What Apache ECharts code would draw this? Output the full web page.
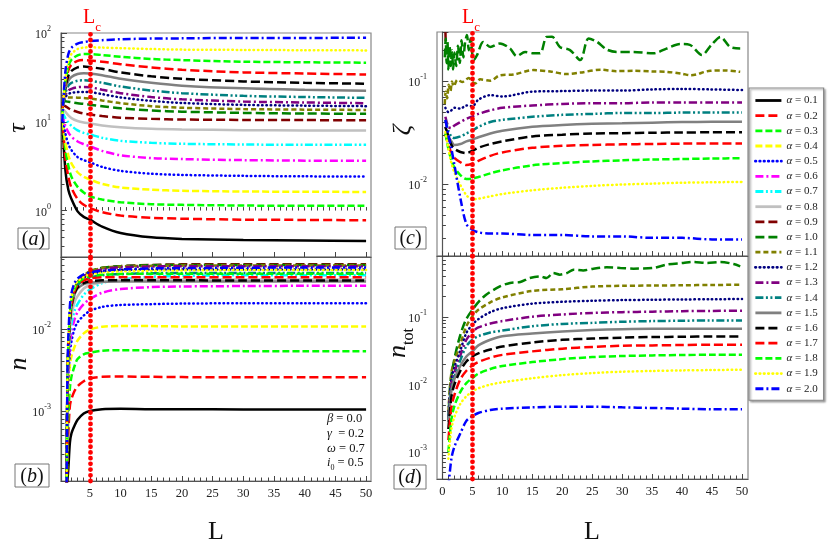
<!DOCTYPE html>
<html>
<head>
<meta charset="utf-8">
<script src="https://cdn.jsdelivr.net/npm/echarts@6/dist/echarts.min.js"></script>
</head>
<body style="margin:0;background:#fff">
<div id="chart" style="width:830px;height:547px"></div>
<script>
var alphas = ['0.1','0.2','0.3','0.4','0.5','0.6','0.7','0.8','0.9','1.0',
              '1.1','1.2','1.3','1.4','1.5','1.6','1.7','1.8','1.9','2.0'];

// panel (a): tau vs L
var La = [0.5, 1, 1.5, 2, 3, 4, 5, 7, 10, 15, 20, 30, 40, 50];
var tauA = [
  [12, 2.9, 1.7, 1.35, 0.98, 0.85, 0.79, 0.66, 0.56, 0.5, 0.48, 0.465, 0.46, 0.455],
  [12.5, 4, 2.4, 1.8, 1.35, 1.16, 1.07, 0.96, 0.88, 0.83, 0.81, 0.79, 0.785, 0.778],
  [12.5, 5, 3.2, 2.4, 1.85, 1.6, 1.45, 1.33, 1.24, 1.18, 1.16, 1.14, 1.13, 1.13],
  [12.5, 6, 4.2, 3.4, 2.7, 2.4, 2.24, 2.0, 1.82, 1.72, 1.67, 1.64, 1.63, 1.62],
  [12.5, 7.5, 5.6, 4.8, 4.0, 3.7, 3.5, 3.1, 2.8, 2.6, 2.52, 2.46, 2.43, 2.42],
  [12.5, 9, 7.6, 6.8, 6, 5.6, 5.3, 4.7, 4.2, 3.9, 3.8, 3.7, 3.65, 3.63],
  [13, 11, 9.8, 9, 8, 7.5, 7.2, 6.6, 6.1, 5.8, 5.65, 5.55, 5.5, 5.5],
  [14, 13, 11.8, 11, 10.2, 9.8, 9.6, 9.1, 8.7, 8.35, 8.2, 8.05, 8.0, 7.98],
  [15.5, 15, 14.2, 13.6, 12.9, 12.4, 12.1, 11.6, 11.1, 10.8, 10.6, 10.5, 10.45, 10.4],
  [16, 17, 16.8, 16.6, 16.2, 15.9, 15.6, 15, 14.2, 13.4, 13, 12.6, 12.4, 12.3],
  [16.5, 18.5, 18.8, 18.8, 18.7, 18.5, 18.3, 17.4, 16.2, 15, 14.4, 13.9, 13.7, 13.6],
  [16, 19, 20.5, 21.2, 21.6, 21.7, 21.6, 20.5, 18.8, 17.2, 16.3, 15.5, 15.2, 15],
  [15.5, 20, 22.5, 23.5, 24.5, 24.7, 24.5, 23, 21, 19, 17.9, 16.9, 16.5, 16.2],
  [15, 21, 25.5, 27.5, 29, 29.3, 29, 27.5, 25, 22.5, 21, 19.6, 19, 18.6],
  [14.5, 23, 29, 32, 34.5, 35.2, 35, 33.5, 30.5, 27.5, 25.5, 23.8, 23, 22.4],
  [14, 24, 33, 37.5, 41, 42, 41.3, 39.5, 36, 32.5, 30.5, 28.5, 27.5, 26.8],
  [13, 26, 38, 44, 48.5, 49.5, 49, 47.5, 44.5, 41, 38.5, 36, 35, 34.1],
  [12, 28, 42, 50, 56, 58, 58, 56.5, 54, 51, 49.5, 47.5, 46.8, 46.3],
  [11, 30, 48, 58, 66, 68.5, 69, 68.5, 67.5, 66, 65, 64.5, 64, 63.7],
  [10, 36, 58, 68, 76, 79, 81, 83, 85, 86.5, 87, 88, 88, 88.5]
];

// panel (b): n vs L
var Lb = [1.2, 1.35, 1.5, 1.75, 2, 2.5, 3, 4, 5, 7, 10, 15, 20, 30, 40, 50];
var nB = [
  [5e-5, 1.4e-4, 2e-4, 4.1e-4, 5.3e-4, 6.6e-4, 7.8e-4, 9.3e-4, 1.0e-3, 1.05e-3, 1.06e-3, 1.05e-3, 1.05e-3, 1.04e-3, 1.04e-3, 1.04e-3],
  [8e-5, 2.8e-4, 5.5e-4, 1.15e-3, 1.4e-3, 1.75e-3, 2.0e-3, 2.3e-3, 2.5e-3, 2.6e-3, 2.62e-3, 2.6e-3, 2.58e-3, 2.57e-3, 2.57e-3, 2.57e-3],
  [8e-5, 4e-4, 9e-4, 1.9e-3, 2.6e-3, 3.5e-3, 4.3e-3, 4.9e-3, 5.1e-3, 5.4e-3, 5.5e-3, 5.45e-3, 5.4e-3, 5.35e-3, 5.33e-3, 5.33e-3],
  [8e-5, 1.0e-3, 2.0e-3, 3.6e-3, 4.6e-3, 6e-3, 7.2e-3, 8.8e-3, 9.8e-3, 1.06e-2, 1.08e-2, 1.08e-2, 1.07e-2, 1.07e-2, 1.066e-2, 1.066e-2],
  [8e-5, 1.2e-3, 2.5e-3, 5e-3, 7e-3, 1.0e-2, 1.2e-2, 1.45e-2, 1.65e-2, 1.85e-2, 1.95e-2, 2.0e-2, 2.03e-2, 2.05e-2, 2.05e-2, 2.05e-2],
  [8e-5, 1.5e-3, 3e-3, 6.5e-3, 9e-3, 1.3e-2, 1.6e-2, 2.0e-2, 2.3e-2, 2.75e-2, 3.05e-2, 3.22e-2, 3.28e-2, 3.32e-2, 3.34e-2, 3.34e-2],
  [8e-5, 1.8e-3, 4e-3, 8e-3, 1.15e-2, 1.65e-2, 2.0e-2, 2.6e-2, 3.0e-2, 3.6e-2, 4.0e-2, 4.3e-2, 4.4e-2, 4.5e-2, 4.5e-2, 4.5e-2],
  [8e-5, 1.9e-3, 4.5e-3, 1.0e-2, 1.45e-2, 2.1e-2, 2.5e-2, 3.1e-2, 3.4e-2, 3.7e-2, 3.9e-2, 4.0e-2, 4.0e-2, 4.0e-2, 4.0e-2, 4.0e-2],
  [8e-5, 2e-3, 4.8e-3, 1.2e-2, 1.9e-2, 2.9e-2, 3.6e-2, 4.4e-2, 4.9e-2, 5.5e-2, 5.8e-2, 6.0e-2, 6.1e-2, 6.1e-2, 6.1e-2, 6.1e-2],
  [8e-5, 2.1e-3, 5e-3, 1.25e-2, 1.95e-2, 3.0e-2, 3.7e-2, 4.5e-2, 5.0e-2, 5.55e-2, 5.8e-2, 5.95e-2, 6.0e-2, 6.0e-2, 6.0e-2, 6.0e-2],
  [8e-5, 2.1e-3, 5.2e-3, 1.3e-2, 2.0e-2, 3.0e-2, 3.7e-2, 4.5e-2, 5.0e-2, 5.5e-2, 5.75e-2, 5.85e-2, 5.9e-2, 5.9e-2, 5.9e-2, 5.9e-2],
  [8e-5, 2.2e-3, 5.3e-3, 1.3e-2, 1.95e-2, 2.9e-2, 3.5e-2, 4.2e-2, 4.6e-2, 5.0e-2, 5.2e-2, 5.3e-2, 5.3e-2, 5.3e-2, 5.3e-2, 5.3e-2],
  [8e-5, 2.2e-3, 5.5e-3, 1.35e-2, 2.0e-2, 3.0e-2, 3.7e-2, 4.4e-2, 4.8e-2, 5.3e-2, 5.6e-2, 5.75e-2, 5.8e-2, 5.8e-2, 5.8e-2, 5.8e-2],
  [8e-5, 2.3e-3, 5.5e-3, 1.3e-2, 1.9e-2, 2.8e-2, 3.4e-2, 3.9e-2, 4.2e-2, 4.5e-2, 4.65e-2, 4.75e-2, 4.8e-2, 4.8e-2, 4.8e-2, 4.8e-2],
  [8e-5, 2.3e-3, 5.5e-3, 1.25e-2, 1.8e-2, 2.6e-2, 3.1e-2, 3.5e-2, 3.65e-2, 3.75e-2, 3.78e-2, 3.78e-2, 3.78e-2, 3.78e-2, 3.78e-2, 3.78e-2],
  [8e-5, 2.4e-3, 5.8e-3, 1.3e-2, 1.9e-2, 2.7e-2, 3.2e-2, 3.6e-2, 3.8e-2, 3.9e-2, 3.9e-2, 3.9e-2, 3.9e-2, 3.88e-2, 3.88e-2, 3.88e-2],
  [8e-5, 2.5e-3, 6e-3, 1.4e-2, 2.0e-2, 2.9e-2, 3.4e-2, 3.9e-2, 4.1e-2, 4.25e-2, 4.25e-2, 4.25e-2, 4.25e-2, 4.25e-2, 4.26e-2, 4.26e-2],
  [8e-5, 2.6e-3, 6.5e-3, 1.5e-2, 2.2e-2, 3.1e-2, 3.6e-2, 4.1e-2, 4.35e-2, 4.55e-2, 4.65e-2, 4.7e-2, 4.7e-2, 4.7e-2, 4.7e-2, 4.7e-2],
  [8e-5, 2.8e-3, 7e-3, 1.6e-2, 2.4e-2, 3.3e-2, 3.8e-2, 4.3e-2, 4.6e-2, 4.85e-2, 5.0e-2, 5.1e-2, 5.15e-2, 5.2e-2, 5.2e-2, 5.2e-2],
  [8e-5, 3e-3, 8e-3, 1.9e-2, 2.7e-2, 3.6e-2, 4.1e-2, 4.6e-2, 4.86e-2, 5.1e-2, 5.3e-2, 5.45e-2, 5.5e-2, 5.55e-2, 5.6e-2, 5.6e-2]
];

// panel (c): zeta vs L
var Lc = [0.5, 1, 1.5, 2, 3, 4, 5, 6, 8, 10, 15, 20, 25, 30, 35, 40, 45, 50];
var alphasC = ['1.2','1.3','1.4','1.5','1.6','1.7','1.8','1.9','2.0'];
var zetaC = [
  [0.055, 0.05, 0.052, 0.055, 0.054, 0.058, 0.057, 0.066, 0.073, 0.071, 0.079, 0.08, 0.081, 0.081, 0.083, 0.084, 0.083, 0.082],
  [0.045, 0.036, 0.035, 0.037, 0.04, 0.043, 0.0455, 0.048, 0.052, 0.055, 0.058, 0.06, 0.061, 0.061, 0.062, 0.062, 0.062, 0.062],
  [0.042, 0.033, 0.029, 0.028, 0.029, 0.031, 0.033, 0.036, 0.04, 0.042, 0.045, 0.047, 0.048, 0.049, 0.049, 0.0495, 0.0496, 0.0496],
  [0.036, 0.029, 0.026, 0.024, 0.0245, 0.026, 0.027, 0.0285, 0.031, 0.033, 0.036, 0.0375, 0.0385, 0.039, 0.0395, 0.040, 0.0402, 0.0403],
  [0.036, 0.029, 0.024, 0.022, 0.0205, 0.02, 0.021, 0.0225, 0.0245, 0.026, 0.029, 0.0302, 0.031, 0.0312, 0.0315, 0.0317, 0.0318, 0.0318],
  [0.031, 0.024, 0.02, 0.018, 0.0163, 0.0153, 0.0158, 0.0168, 0.0188, 0.0203, 0.0225, 0.0235, 0.024, 0.0243, 0.0245, 0.0247, 0.0248, 0.0248],
  [0.031, 0.022, 0.017, 0.0145, 0.0122, 0.0112, 0.0113, 0.0117, 0.0127, 0.0136, 0.0152, 0.016, 0.0166, 0.017, 0.0173, 0.0175, 0.0177, 0.0178],
  [0.032, 0.022, 0.016, 0.013, 0.0098, 0.0078, 0.0071, 0.0072, 0.0076, 0.008, 0.0087, 0.0092, 0.0096, 0.0099, 0.0101, 0.0103, 0.0104, 0.0105],
  [0.042, 0.03, 0.022, 0.0154, 0.0073, 0.0041, 0.0036, 0.0034, 0.0033, 0.0033, 0.0032, 0.0032, 0.0031, 0.0031, 0.003, 0.003, 0.0029, 0.0029]
];
// irregular curves in (c), as [L, zeta]
var zeta09 = [[0.45, 0.4], [0.55, 0.24]];
var zeta10 = [[0.4,0.17],[0.55,0.26],[0.7,0.15],[0.85,0.24],[1.0,0.13],[1.2,0.22],[1.4,0.14],[1.6,0.2],
  [1.8,0.13],[2.0,0.19],[2.3,0.14],[2.6,0.22],[2.9,0.15],[3.2,0.25],[3.5,0.17],[3.8,0.24],[4.1,0.28],
  [4.4,0.2],[4.7,0.26],[5.2,0.16],[5.8,0.18],[6.8,0.24],[8,0.215],[9.6,0.232],[11.3,0.207],[12.4,0.175],
  [13.8,0.192],[15.2,0.186],[16.3,0.186],[17.4,0.269],[18.3,0.27],[19.6,0.215],[21.3,0.2],[23,0.16],
  [24.4,0.26],[25.8,0.241],[27.4,0.203],[29.1,0.192],[31.9,0.192],[35.2,0.186],[37.4,0.207],[39.7,0.229],
  [41.3,0.225],[43.3,0.179],[44.9,0.225],[46.4,0.269],[48,0.215],[49.7,0.207]];
var zeta11 = [[0.4,0.06],[0.55,0.079],[0.8,0.068],[1.05,0.092],[1.35,0.08],[1.6,0.099],[1.9,0.089],
  [2.5,0.103],[3.3,0.098],[4.4,0.107],[5,0.098],[5.5,0.095],[6.3,0.104],[8,0.101],[9.6,0.114],
  [11.9,0.116],[15.2,0.128],[18,0.124],[20.8,0.117],[23,0.121],[26.4,0.129],[29,0.125],[31.9,0.126],
  [35,0.124],[37.5,0.123],[40,0.118],[41.4,0.114],[44.7,0.126],[47,0.127],[49.7,0.123]];

// panel (d): n_tot vs L
var Ld = [1, 1.5, 2, 3, 4, 5, 6, 8, 10, 15, 20, 25, 30, 35, 40, 45, 50];
var alphasD = ['1.1','1.2','1.3','1.4','1.5','1.6','1.7','1.8','1.9','2.0'];
var ntotD = [
  [0.004, 0.015, 0.022, 0.04, 0.073, 0.102, 0.128, 0.165, 0.195, 0.243, 0.258, 0.282, 0.29, 0.292, 0.295, 0.298, 0.30],
  [0.0035, 0.012, 0.018, 0.032, 0.058, 0.077, 0.093, 0.118, 0.135, 0.158, 0.168, 0.174, 0.178, 0.180, 0.182, 0.183, 0.185],
  [0.003, 0.01, 0.015, 0.027, 0.046, 0.06, 0.07, 0.08, 0.087, 0.101, 0.109, 0.115, 0.118, 0.12, 0.122, 0.123, 0.124],
  [0.003, 0.009, 0.013, 0.023, 0.037, 0.046, 0.052, 0.059, 0.063, 0.073, 0.079, 0.082, 0.085, 0.087, 0.088, 0.089, 0.089],
  [0.0028, 0.008, 0.012, 0.019, 0.026, 0.031, 0.038, 0.046, 0.052, 0.057, 0.061, 0.064, 0.066, 0.067, 0.067, 0.067, 0.067],
  [0.0022, 0.0065, 0.01, 0.016, 0.022, 0.026, 0.029, 0.033, 0.0365, 0.042, 0.046, 0.048, 0.0495, 0.0505, 0.051, 0.0515, 0.0516],
  [0.0015, 0.0045, 0.007, 0.012, 0.016, 0.0192, 0.0215, 0.025, 0.0275, 0.031, 0.034, 0.036, 0.0375, 0.038, 0.0385, 0.039, 0.039],
  [0.001, 0.003, 0.0048, 0.0078, 0.0105, 0.0125, 0.0145, 0.017, 0.0188, 0.0215, 0.0238, 0.0255, 0.0265, 0.027, 0.0274, 0.0276, 0.0277],
  [0.0008, 0.0022, 0.0033, 0.0052, 0.0067, 0.0079, 0.0088, 0.0100, 0.0108, 0.0124, 0.0138, 0.0148, 0.0155, 0.0159, 0.0162, 0.0164, 0.0166],
  [0.0003, 0.0008, 0.0012, 0.0019, 0.0029, 0.0034, 0.0038, 0.0042, 0.0044, 0.0046, 0.0047, 0.0047, 0.0046, 0.0045, 0.0044, 0.0043, 0.0043]
];
var ntot10 = [[1.0,0.003],[1.3,0.0099],[1.8,0.0195],[2.7,0.044],[3.8,0.086],[5,0.128],[6.9,0.20],
  [9.6,0.284],[11.3,0.319],[13,0.33],[14.6,0.378],[16.3,0.40],[17.4,0.378],[18.5,0.449],[19.6,0.424],
  [20.8,0.449],[21.9,0.502],[23.5,0.49],[25.2,0.52],[27.4,0.543],[29.7,0.532],[31.9,0.52],[35.2,0.532],
  [37.4,0.596],[40.2,0.631],[41.9,0.653],[44.1,0.631],[46.4,0.653],[48.6,0.609],[49.7,0.562]];

var Lcrit = 5;
var xLabelsLeft = [5, 10, 15, 20, 25, 30, 35, 40, 45, 50];
var xLabelsRight = [0, 5, 10, 15, 20, 25, 30, 35, 40, 45, 50];

var lineColors = ['#000000','#ff0000','#00ff00','#ffff00','#0000ff','#ff00ff','#00ffff','#c0c0c0','#800000','#008000',
                  '#808000','#000080','#800080','#008080','#808080','#000000','#ff0000','#00ff00','#ffff00','#0000ff'];
var DASH = [9, 4], MED = [7, 3], SHORT = [5, 3], DOT = [0.5, 3.8], DD = [8, 3, 2, 3], DDD = [8, 2.5, 2, 2.5, 2, 2.5];
var lineDash = ['solid', DASH, MED, MED, DOT, DD, DDD, 'solid', DASH, DASH,
                SHORT, DOT, DD, DDD, 'solid', DASH, DASH, MED, DOT, DD];

var serif = 'Liberation Serif';
var chart = echarts.init(document.getElementById('chart'));

function zip(xs, ys) {
  return xs.map(function (x, k) { return [x, ys[k]]; });
}

function curve(alpha, g, pts) {
  var i = alphas.indexOf(alpha);
  return {
    name: 'α = ' + alpha, type: 'line', xAxisIndex: g, yAxisIndex: g,
    data: pts, symbol: 'none', smooth: 0.3, silent: true,
    lineStyle: { color: lineColors[i], width: 2.5, type: lineDash[i], cap: lineDash[i] === DOT ? 'round' : 'butt' },
    itemStyle: { color: lineColors[i] }
  };
}

function critLine(g) {
  return {
    type: 'line', xAxisIndex: g, yAxisIndex: g, data: [], z: 10, silent: true,
    markLine: {
      silent: true, symbol: 'none', label: { show: false },
      lineStyle: { color: '#ff0000', width: 4.8, type: [0.01, 5.7], cap: 'round', opacity: 1 },
      emphasis: { disabled: true },
      data: [{ xAxis: Lcrit }]
    }
  };
}

function supLabel(v) {
  var e = Math.log(v) / Math.LN10;
  var r = Math.round(e);
  if (Math.abs(e - r) > 1e-3) return '';
  return '{b|10}{s|' + (r < 0 ? '-' + (-r) : r) + '}';
}

function minorLog(min, max) {
  var out = [];
  for (var d = -5; d <= 2; d++) {
    for (var k = 2; k <= 9; k++) {
      var v = d + Math.log(k) / Math.LN10;
      if (v > min && v < max) out.push(v);
    }
  }
  return out;
}

function range(a, b) {
  var out = [];
  for (var v = a; v <= b; v++) out.push(v);
  return out;
}

var tickColor = '#444';
var grids = [
  { left: 61, top: 33, width: 310, height: 224 },
  { left: 61, top: 257, width: 310, height: 224 },
  { left: 437, top: 32, width: 311, height: 224 },
  { left: 437, top: 256, width: 311, height: 223 }
];
var xRange = [[0.3, 50.8], [0.3, 50.8], [-0.9, 51], [-0.9, 51]];
var yRange = [[0.3, 100], [1.4e-4, 0.075], [0.002, 0.3], [4e-4, 0.8]];

var xAxes = [], yAxes = [];
for (var g = 0; g < 4; g++) {
  var labels = g < 2 ? xLabelsLeft : xLabelsRight;
  xAxes.push({
    type: 'value', gridIndex: g, position: 'bottom', min: xRange[g][0], max: xRange[g][1],
    axisLine: { show: true, onZero: false, lineStyle: { color: '#555', width: 1.2 } },
    axisTick: { show: true, inside: true, length: 5, customValues: labels, lineStyle: { color: tickColor } },
    axisLabel: { show: g === 1 || g === 3, customValues: labels, margin: 6,
                 fontFamily: serif, fontSize: 12.5, color: '#222' },
    splitLine: { show: false }
  });
  yAxes.push({
    type: 'log', logBase: 10, gridIndex: g, position: 'left', min: yRange[g][0], max: yRange[g][1],
    axisLine: { show: true, lineStyle: { color: '#555', width: 1.2 } },
    axisTick: { show: true, inside: true, length: 6, lineStyle: { color: tickColor } },
    axisLabel: {
      margin: 10, formatter: supLabel, color: '#222',
      rich: {
        b: { fontFamily: serif, fontSize: 12, lineHeight: 16, verticalAlign: 'bottom', color: '#222' },
        s: { fontFamily: serif, fontSize: 8, lineHeight: 16, verticalAlign: 'top', color: '#222' }
      }
    },
    splitLine: { show: false },
    minorTick: { show: false }
  });
}
// minor ticks: separate decoration axes
for (var h = 0; h < 4; h++) {
  xAxes.push({
    type: 'value', gridIndex: h, position: 'bottom', min: xRange[h][0], max: xRange[h][1],
    axisLine: { show: false },
    axisTick: { show: true, inside: true, length: 3.5, customValues: range(h < 2 ? 1 : 0, 50), lineStyle: { color: tickColor } },
    axisLabel: { show: false }, splitLine: { show: false }
  });
  var lmin = Math.log(yRange[h][0]) / Math.LN10, lmax = Math.log(yRange[h][1]) / Math.LN10;
  yAxes.push({
    type: 'value', gridIndex: h, position: 'left', min: lmin, max: lmax,
    axisLine: { show: false },
    axisTick: { show: true, inside: true, length: 3.5, customValues: minorLog(lmin, lmax), lineStyle: { color: tickColor } },
    axisLabel: { show: false }, splitLine: { show: false }
  });
}

var series = [];
alphas.forEach(function (a, i) {
  series.push(curve(a, 0, zip(La, tauA[i])));
});
alphas.forEach(function (a, i) {
  series.push(curve(a, 1, zip(Lb, nB[i])));
});
series.push(curve('0.9', 2, zeta09));
series.push(curve('1.0', 2, zeta10));
series.push(curve('1.1', 2, zeta11));
alphasC.forEach(function (a, k) {
  series.push(curve(a, 2, zip(Lc, zetaC[k])));
});
series.push(curve('1.0', 3, ntot10));
alphasD.forEach(function (a, k) {
  series.push(curve(a, 3, zip(Ld, ntotD[k])));
});
for (var m = 0; m < 4; m++) series.push(critLine(m));

function panelTag(letter, x, y, w, hgt) {
  return [
    { type: 'rect', shape: { x: x, y: y, width: w, height: hgt }, z: 50,
      style: { fill: '#fff', stroke: '#777', lineWidth: 1 } },
    { type: 'text', x: x + w / 2, y: y + hgt / 2 + 1, z: 51,
      style: { text: '{p|(}{l|' + letter + '}{p|)}', align: 'center', verticalAlign: 'middle',
        rich: { p: { fontFamily: serif, fontSize: 20, fill: '#111' },
                l: { fontFamily: serif, fontSize: 20, fontStyle: 'italic', fill: '#111' } } } }
  ];
}

function rotName(x, y, text) {
  return { type: 'text', x: x, y: y, rotation: Math.PI / 2, z: 50,
    style: { text: text, align: 'center', verticalAlign: 'middle', fill: '#111',
      rich: { i: { fontFamily: serif, fontStyle: 'italic', fontSize: 26, lineHeight: 32, verticalAlign: 'top', fill: '#111' },
              s: { fontFamily: serif, fontSize: 16, lineHeight: 32, verticalAlign: 'bottom', fill: '#111' } } } };
}

function lcLabel(x) {
  return { type: 'text', x: x, y: 21, z: 50,
    style: { text: '{m|L}{s|c}', align: 'center', verticalAlign: 'middle',
      rich: { m: { fontFamily: serif, fontSize: 20, lineHeight: 26, verticalAlign: 'top', fill: '#ff0000' },
              s: { fontFamily: serif, fontSize: 13, lineHeight: 26, verticalAlign: 'bottom', fill: '#ff0000' } } } };
}

var paramRich = {
  g: { fontFamily: serif, fontStyle: 'italic', fontSize: 12.5, lineHeight: 17, verticalAlign: 'middle', fill: '#111' },
  t: { fontFamily: serif, fontSize: 12.5, lineHeight: 17, verticalAlign: 'middle', fill: '#111' },
  s: { fontFamily: serif, fontSize: 8, lineHeight: 17, verticalAlign: 'bottom', fill: '#111' }
};
function param(y, text) {
  return { type: 'text', x: 327, y: y, z: 50,
    style: { text: text, align: 'left', verticalAlign: 'middle', rich: paramRich } };
}

var graphic = [].concat(
  panelTag('a', 18, 228, 31, 21),
  panelTag('b', 15, 464, 34, 23),
  panelTag('c', 395, 227, 31, 22),
  panelTag('d', 394, 465, 32, 24),
  [
    rotName(21, 128, '{i|τ}'),
    rotName(22, 364, '{i|n}'),
    rotName(406, 130, '{i|ζ}'),
    rotName(401, 343, '{i|n}{s|tot}'),
    { type: 'text', x: 216, y: 532, z: 50,
      style: { text: 'L', font: '26px "Liberation Serif"', fill: '#111', align: 'center', verticalAlign: 'middle' } },
    { type: 'text', x: 592, y: 532, z: 50,
      style: { text: 'L', font: '26px "Liberation Serif"', fill: '#111', align: 'center', verticalAlign: 'middle' } },
    lcLabel(92),
    lcLabel(471),
    param(419, '{g|β}{t| = 0.0}'),
    param(434, '{g|γ}{t|  = 0.2}'),
    param(448.5, '{g|ω}{t| = 0.7}'),
    param(463, '{g|i}{s|0}{t| = 0.5}')
  ]
);

chart.setOption({
  animation: false,
  backgroundColor: '#fff',
  textStyle: { fontFamily: serif },
  grid: grids.map(function (r) {
    return { left: r.left, top: r.top, width: r.width, height: r.height, show: true,
             borderColor: '#888', borderWidth: 1.2, backgroundColor: 'transparent' };
  }),
  xAxis: xAxes,
  yAxis: yAxes,
  legend: {
    data: alphas.map(function (a) { return 'α = ' + a; }),
    orient: 'vertical', left: 749, top: 88,
    itemWidth: 26, itemHeight: 10, itemGap: 4.17,
    padding: [7, 6, 6, 5],
    backgroundColor: '#fff', borderColor: '#888', borderWidth: 1.2,
    shadowColor: 'rgba(0,0,0,0.35)', shadowBlur: 2, shadowOffsetX: 1.5, shadowOffsetY: 1.5,
    selectedMode: false,
    itemStyle: { opacity: 0 },
    lineStyle: { width: 2.8 },
    formatter: function (name) { return '{g|α}' + name.slice(1); },
    textStyle: { fontFamily: serif, fontSize: 11, color: '#222',
                 rich: { g: { fontFamily: serif, fontSize: 11, fontStyle: 'italic', color: '#222' } } }
  },
  graphic: graphic,
  series: series
});
</script>
</body>
</html>
